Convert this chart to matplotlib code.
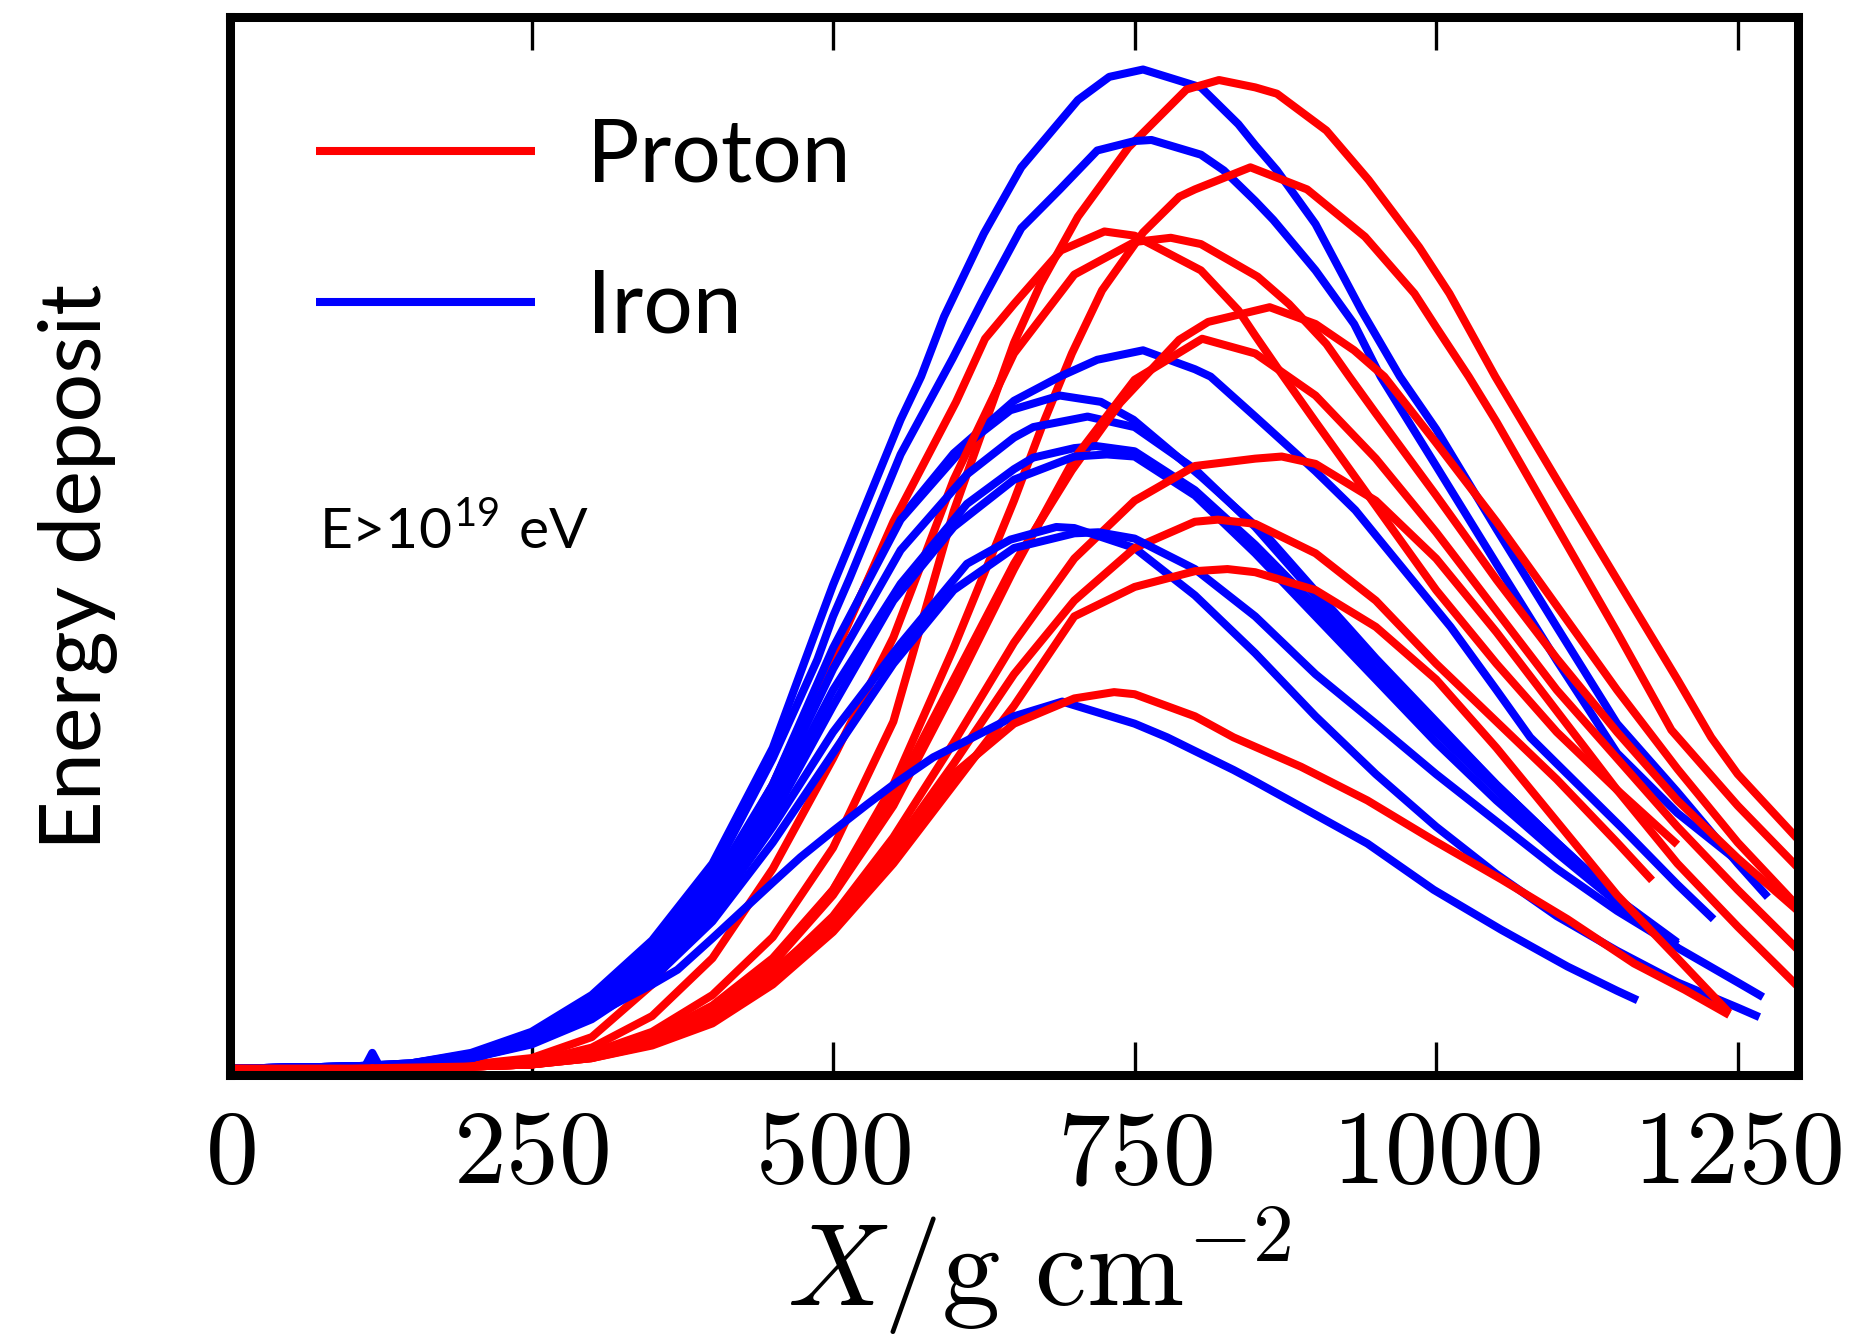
import matplotlib
matplotlib.use("Agg")
import matplotlib.pyplot as plt

plt.rcParams['mathtext.fontset'] = 'cm'
plt.rcParams['font.family'] = ['Lato', 'DejaVu Sans']

# slant depth grid (g/cm^2) on which the profiles are tabulated
depth = [0, 100, 150, 200, 250, 300, 350, 400, 450, 500, 550, 600, 650, 700,
         750, 800, 850, 900, 950, 1000, 1050, 1100, 1150, 1200, 1250, 1300]

# proton showers: energy deposit (arb. units) on the grid, plus extra
# (depth, deposit) samples around the maximum and the end of each track
proton_1 = [0, 0, 0.1, 0.3, 0.6, 1.5, 3.5, 7, 12.5, 21, 33, 53, 69, 80.5, 88.3, 93.6,
            93.3, 90, 83.5, 75.8, 65.6, 56, 46.5, 37, 28, 21.8]
proton_1_pts = [(672, 74.6), (703, 81.0), (745, 87.6), (793, 93.1), (820, 94.0),
                (868, 92.7), (909, 89.2), (944, 84.5), (986, 78.1), (1011, 73.7),
                (1049, 65.8), (1228, 31.5)]
proton_2 = [0, 0, 0.1, 0.2, 0.4, 1.2, 2.8, 5.5, 10, 17, 27, 40, 54, 68.5, 78.5, 83.6,
            85.6, 83.2, 78, 70.5, 61.5, 51.5, 41.5, 32, 25, 19.1]
proton_2_pts = [(674, 61.3), (698, 68.0), (723, 74.0), (757, 79.5), (787, 82.9),
                (846, 85.7), (893, 83.6), (941, 79.1), (982, 73.7), (1027, 65.8),
                (1195, 32.2)]
proton_3 = [0, 0, 0.1, 0.4, 1.0, 3, 8, 16, 27, 39, 52, 63, 72.5, 78.5, 79.2, 76,
            69.7, 61.5, 53.5, 45.5, 38.5, 32, 26.5, 21.3]
proton_3_pts = [(602, 63.4), (626, 69.4), (650, 72.7), (689, 77.8), (725, 79.6),
                (805, 75.9), (836, 72.1), (868, 66.7)]
proton_4 = [0, 0, 0.1, 0.3, 0.6, 2, 5, 10.5, 19, 29.5, 41, 56, 68, 75.5, 78.6, 78.6,
            75.5, 70.2, 62.3, 54.5, 46.5, 39, 32, 25.5, 20, 15]
proton_4_pts = [(780, 79.0), (805, 78.4), (852, 75.3), (878, 72.7), (909, 68.9),
                (928, 65.8)]
proton_5 = [0, 0, 0.1, 0.2, 0.4, 1.3, 3, 6, 10.5, 17, 26, 37, 48, 57, 64.8, 70.3,
            72.3, 70.8, 66.5, 59.5, 52, 44, 36, 28.5, 21.5, 15.4]
proton_5_pts = [(698, 56.9), (738, 63.3), (787, 69.3), (811, 71.0), (862, 72.4),
                (900, 70.8), (932, 68.3), (957, 65.8)]
proton_6 = [0, 0, 0.1, 0.2, 0.4, 1.2, 2.8, 5.5, 10, 16.5, 25, 36, 47.5, 58, 65.5, 69.3,
            68, 64, 58, 51, 43.5, 36, 29.5, 23, 17, 11.3]
proton_6_pts = [(806, 69.4)]
proton_7 = [0, 0, 0.1, 0.2, 0.4, 1.1, 2.5, 5, 9, 14.5, 22, 31, 40.5, 48.5, 54, 57.3,
            58.0, 57.5, 54, 48.5, 41.5, 34, 26.5, 19.5, 13.5, 7.8]
proton_7_pts = [(872, 58.2)]
proton_8 = [0, 0, 0.1, 0.2, 0.4, 1, 2.3, 4.6, 8.5, 14, 21, 29, 37.5, 44.5, 49.5, 52,
            51.8, 49, 44.5, 38.5, 33, 27.5, 21.5]
proton_8_pts = [(819, 52.2), (1179, 17.9)]
proton_9 = [0, 0, 0.1, 0.2, 0.4, 1, 2.2, 4.3, 8, 13, 19.5, 27, 34.5, 43, 45.8, 47.3,
            47.2, 45.5, 42, 37, 30.5, 23.5, 16.5, 10.5]
proton_9_pts = [(827, 47.5), (1243, 5.3)]
proton_10 = [0, 0, 0.1, 0.2, 0.4, 1, 2.8, 5.8, 9.3, 14, 20.5, 28, 32.8, 35.2, 35.6, 33.5]
proton_10_pts = [(733, 35.8), (832, 31.5), (888, 28.7), (943, 25.5), (998, 21.7),
                 (1054, 18.0), (1109, 14.2), (1164, 10.0), (1206, 7.5), (1243, 5.1)]

# iron showers
iron_1 = [0, 0.2, 0.5, 1.5, 3.5, 7.0, 12.2, 19.5, 30.5, 46, 60, 73.5, 85, 92, 94.9, 93.6,
          87.8, 80.3, 69.7, 60.8, 51.3, 42, 32.8, 26.3, 19.5]
iron_1_pts = [(487, 42.0), (514, 49.9), (556, 61.7), (573, 65.8), (592, 71.5),
              (625, 79.4), (656, 85.7), (703, 92.1), (729, 94.3), (757, 95.0),
              (805, 93.3), (836, 89.8), (868, 85.4), (900, 80.3), (938, 72.1),
              (970, 65.8), (1275, 16.3)]
iron_2 = [0, 0.2, 0.5, 1.4, 3.2, 6.5, 11.5, 18.5, 29.5, 43, 57, 66.5, 78.8, 85.3, 88.2,
          87.2, 82.5, 75.9, 66.5, 57.3, 48, 38.8, 30, 24.3]
iron_2_pts = [(487, 38.9), (514, 46.7), (556, 58.4), (599, 67.5), (625, 73.3),
              (656, 79.9), (688, 83.6), (719, 87.3), (764, 88.3), (805, 86.9),
              (824, 85.4), (865, 80.7), (900, 75.9), (932, 70.8), (954, 65.8),
              (1258, 19.0)]
iron_3 = [0, 0.2, 0.5, 1.3, 3.0, 6.2, 11, 17.5, 27, 39.5, 51.5, 58.5, 63.5, 66.8, 68.2,
          66.5, 62, 56.8, 50.7, 43.5, 36, 29, 23.3, 17.5]
iron_3_pts = [(688, 65.8), (719, 67.4), (757, 68.3), (813, 65.8), (933, 53.1),
              (1012, 42.0), (1078, 31.5), (1153, 23.0), (1230, 14.2)]
iron_4 = [0, 0.2, 0.4, 1.2, 2.8, 5.8, 10.5, 17, 27, 40, 51.5, 58.5, 62.8, 63.9, 61.6,
          56.8, 51.6, 45.4, 39, 33, 27, 21.5, 16.2, 12]
iron_4_pts = [(556, 52.2), (611, 59.4), (647, 62.6), (688, 64.0), (722, 63.4),
              (749, 61.7), (805, 56.3), (860, 50.6), (929, 41.7)]
iron_5 = [0, 0.2, 0.4, 1.1, 2.7, 5.5, 10, 16.5, 26, 38, 48.8, 55.5, 60, 61.9, 61,
          57, 51.5, 45, 38.8, 32.8, 27, 21.5, 16.2, 11.8]
iron_5_pts = [(556, 49.3), (611, 56.5), (666, 61.0), (711, 62.0)]
iron_6 = [0, 0.2, 0.4, 1.1, 2.6, 5.3, 9.8, 16, 25, 36, 45.5, 52.5, 57, 59, 58.7,
          55, 49.8, 44, 37.8, 32, 26.5, 21, 16, 11.5]
iron_6_pts = [(556, 46.1), (611, 53.7), (666, 58.1), (718, 59.2)]
iron_7 = [0, 0.2, 0.4, 1.0, 2.5, 5.1, 9.5, 15.5, 24, 34.5, 44.5, 51.5, 56, 58.2, 58.2,
          54.5, 49, 43, 37, 31, 25.5, 20.5, 15.8, 11.3]
iron_7_pts = [(727, 58.4)]
iron_8 = [0, 0.2, 0.4, 1.0, 2.4, 4.9, 9, 14.8, 23, 32, 40, 46.8, 50.5, 51.4, 49.5,
          45, 39.5, 33.5, 28, 23, 18.5, 14.5, 11.2, 8.2, 5.8]
iron_8_pts = [(556, 40.4), (611, 48.0), (647, 50.3), (685, 51.5), (1268, 4.9)]
iron_9 = [0, 0.2, 0.4, 1.0, 2.3, 4.7, 8.5, 14, 21.5, 30, 38.5, 45.5, 49.5, 50.9, 50.4,
          47.5, 43, 37.5, 32.8, 28, 23.5, 19, 15, 11.5, 8.2]
iron_9_pts = [(720, 51.0), (1271, 6.8)]
iron_10 = [0, 0.2, 0.4, 1.0, 2.5, 5, 8, 12.4, 17.7, 22.6, 27, 30.6, 33.5, 34.8, 32.8,
           30.2, 27.3, 24.2, 20.9, 16.9, 13.5, 10.2, 7.4]
iron_10_pts = [(112, 0.2), (118, 1.5), (124, 0.2), (371, 9.4), (473, 20.1),
               (528, 25.1), (583, 29.6), (611, 31.2), (690, 34.9), (777, 31.5),
               (832, 28.4), (888, 24.9), (943, 21.4), (998, 17.0), (1054, 13.2),
               (1109, 9.7), (1167, 6.5)]

protons = [(proton_1, proton_1_pts), (proton_2, proton_2_pts), (proton_3, proton_3_pts),
           (proton_4, proton_4_pts), (proton_5, proton_5_pts), (proton_6, proton_6_pts),
           (proton_7, proton_7_pts), (proton_8, proton_8_pts), (proton_9, proton_9_pts),
           (proton_10, proton_10_pts)]
irons = [(iron_1, iron_1_pts), (iron_2, iron_2_pts), (iron_3, iron_3_pts),
         (iron_4, iron_4_pts), (iron_5, iron_5_pts), (iron_6, iron_6_pts),
         (iron_7, iron_7_pts), (iron_8, iron_8_pts), (iron_9, iron_9_pts),
         (iron_10, iron_10_pts)]


def track(vals, pts):
    # grid samples that sit right on top of a finer sample are skipped
    near = [p[0] for p in pts]
    merged = [(x, y) for x, y in zip(depth, vals)
              if all(abs(x - n) > 12 for n in near)]
    merged = sorted(merged + list(pts))
    return [p[0] for p in merged], [p[1] for p in merged]


fig = plt.figure(figsize=(18.5, 13.43), dpi=100)
ax = fig.add_axes([0.1243, 0.1996, 0.8476, 0.7878])

lw = 5.8
handles = []
for (fe, fe_pts), (p, p_pts) in zip(irons, protons):
    l_fe, = ax.plot(*track(fe, fe_pts), color='#0000ff', lw=lw,
                    solid_capstyle='butt', solid_joinstyle='round')
    l_p, = ax.plot(*track(p, p_pts), color='#ff0000', lw=lw,
                   solid_capstyle='butt', solid_joinstyle='round')
    if not handles:
        handles = [l_p, l_fe]

ax.set_xlim(0, 1300)
ax.set_ylim(-0.6, 100)

ticks = [0, 250, 500, 750, 1000, 1250]
ax.set_xticks(ticks)
ax.set_xticklabels(['$%d$' % t for t in ticks])
ax.set_yticks([])
ax.tick_params(axis='x', direction='in', top=True, bottom=True,
               length=24, width=2.4, pad=22, labelsize=76)
for s in ax.spines.values():
    s.set_linewidth(6.5)

ax.set_xlabel(r'$X/\mathrm{g\ cm}^{-2}$', fontsize=84)
ax.xaxis.set_label_coords(0.516, -0.122)
ax.set_ylabel('Energy deposit', fontsize=62)
ax.yaxis.set_label_coords(-0.072, 0.48)

ax.text(0.057, 0.497, r'E>10$^{\mathregular{19}}$ eV', transform=ax.transAxes,
        fontsize=41, ha='left', va='baseline')

ax.legend(handles, ['Proton', 'Iron'], loc='upper left',
          bbox_to_anchor=(0.055, 0.905), frameon=False, fontsize=63,
          handlelength=2.5, handletextpad=0.6, labelspacing=0.82,
          borderpad=0, borderaxespad=0)

fig.savefig('out.png', dpi=100)
